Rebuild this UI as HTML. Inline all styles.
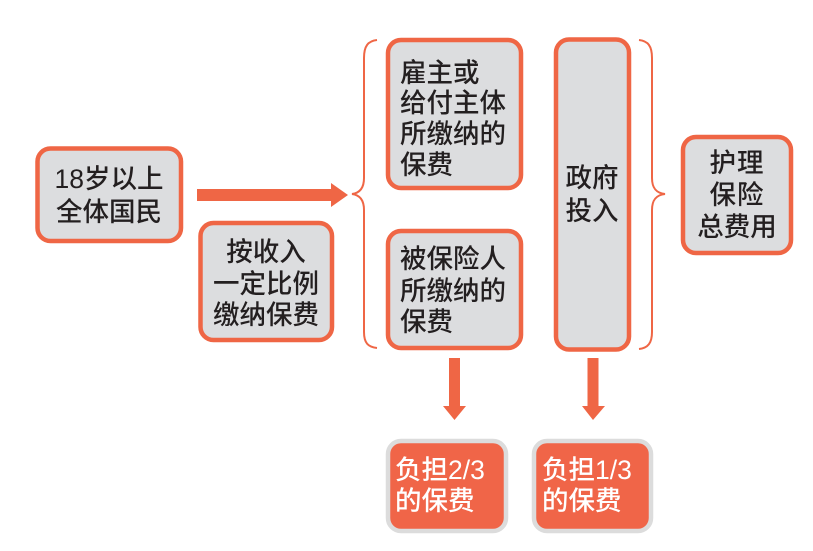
<!DOCTYPE html>
<html>
<head>
<meta charset="utf-8">
<style>
html,body{margin:0;padding:0;background:#fff;}
svg{display:block;}
text{font-family:"Liberation Sans","Noto Sans CJK SC",sans-serif;font-size:26.5px;fill:#231f20;font-weight:500;}
.w{fill:#fff;}
</style>
</head>
<body>
<svg width="813" height="551" viewBox="0 0 813 551" xmlns="http://www.w3.org/2000/svg">
  <g fill="#dcdddf" stroke="#ef6645" stroke-width="4.5">
    <rect x="37.5" y="148.5" width="143.5" height="92.5" rx="13"/>
    <rect x="200.5" y="223" width="131.5" height="117" rx="13"/>
    <rect x="388" y="40" width="133" height="148" rx="13"/>
    <rect x="388" y="231" width="133" height="117" rx="13"/>
    <rect x="556" y="39.5" width="73" height="310" rx="13"/>
    <rect x="683" y="137" width="108" height="116" rx="13"/>
  </g>
  <g fill="#f06548" stroke="#dcdcdc" stroke-width="4.5">
    <rect x="388" y="441" width="118" height="90" rx="13"/>
    <rect x="534" y="441" width="117" height="90" rx="13"/>
  </g>
  <g fill="#ef6645">
    <rect x="197" y="189" width="137" height="12"/>
    <polygon points="331,183 348,195 331,207"/>
    <rect x="449" y="358" width="11" height="50"/>
    <polygon points="443,406 466,406 454.5,420"/>
    <rect x="587.5" y="358" width="11" height="50"/>
    <polygon points="582,406 605,406 593,420"/>
  </g>
  <g fill="none" stroke="#ef6645" stroke-width="2">
    <path d="M377,40 C368,41 364,46 364,58 L364,178 C364,188 360,193 352,194 C360,195 364,200 364,210 L364,332 C364,343 368,347 377,348"/>
    <path d="M639,40 C648,41 652,46 652,58 L652,178 C652,188 656,193 665,194 C656,195 652,200 652,210 L652,332 C652,343 648,348 639,349"/>
  </g>
  <g text-anchor="middle">
    <text x="109" y="188">18岁以上</text>
    <text x="109" y="221">全体国民</text>
    <text x="266" y="261">按收入</text>
    <text x="266" y="293">一定比例</text>
    <text x="266" y="324">缴纳保费</text>
    <text x="592" y="187">政府</text>
    <text x="592" y="220">投入</text>
    <text x="737" y="172" letter-spacing="1">护理</text>
    <text x="737" y="204" letter-spacing="1">保险</text>
    <text x="737" y="236">总费用</text>
  </g>
  <g>
    <text x="400" y="82">雇主或</text>
    <text x="400" y="112">给付主体</text>
    <text x="400" y="143">所缴纳的</text>
    <text x="400" y="174">保费</text>
    <text x="400" y="268">被保险人</text>
    <text x="400" y="300">所缴纳的</text>
    <text x="400" y="331">保费</text>
    <text class="w" x="395" y="479">负担2/3</text>
    <text class="w" x="395" y="510">的保费</text>
    <text class="w" x="542" y="479">负担1/3</text>
    <text class="w" x="542" y="510">的保费</text>
  </g>
</svg>
</body>
</html>
